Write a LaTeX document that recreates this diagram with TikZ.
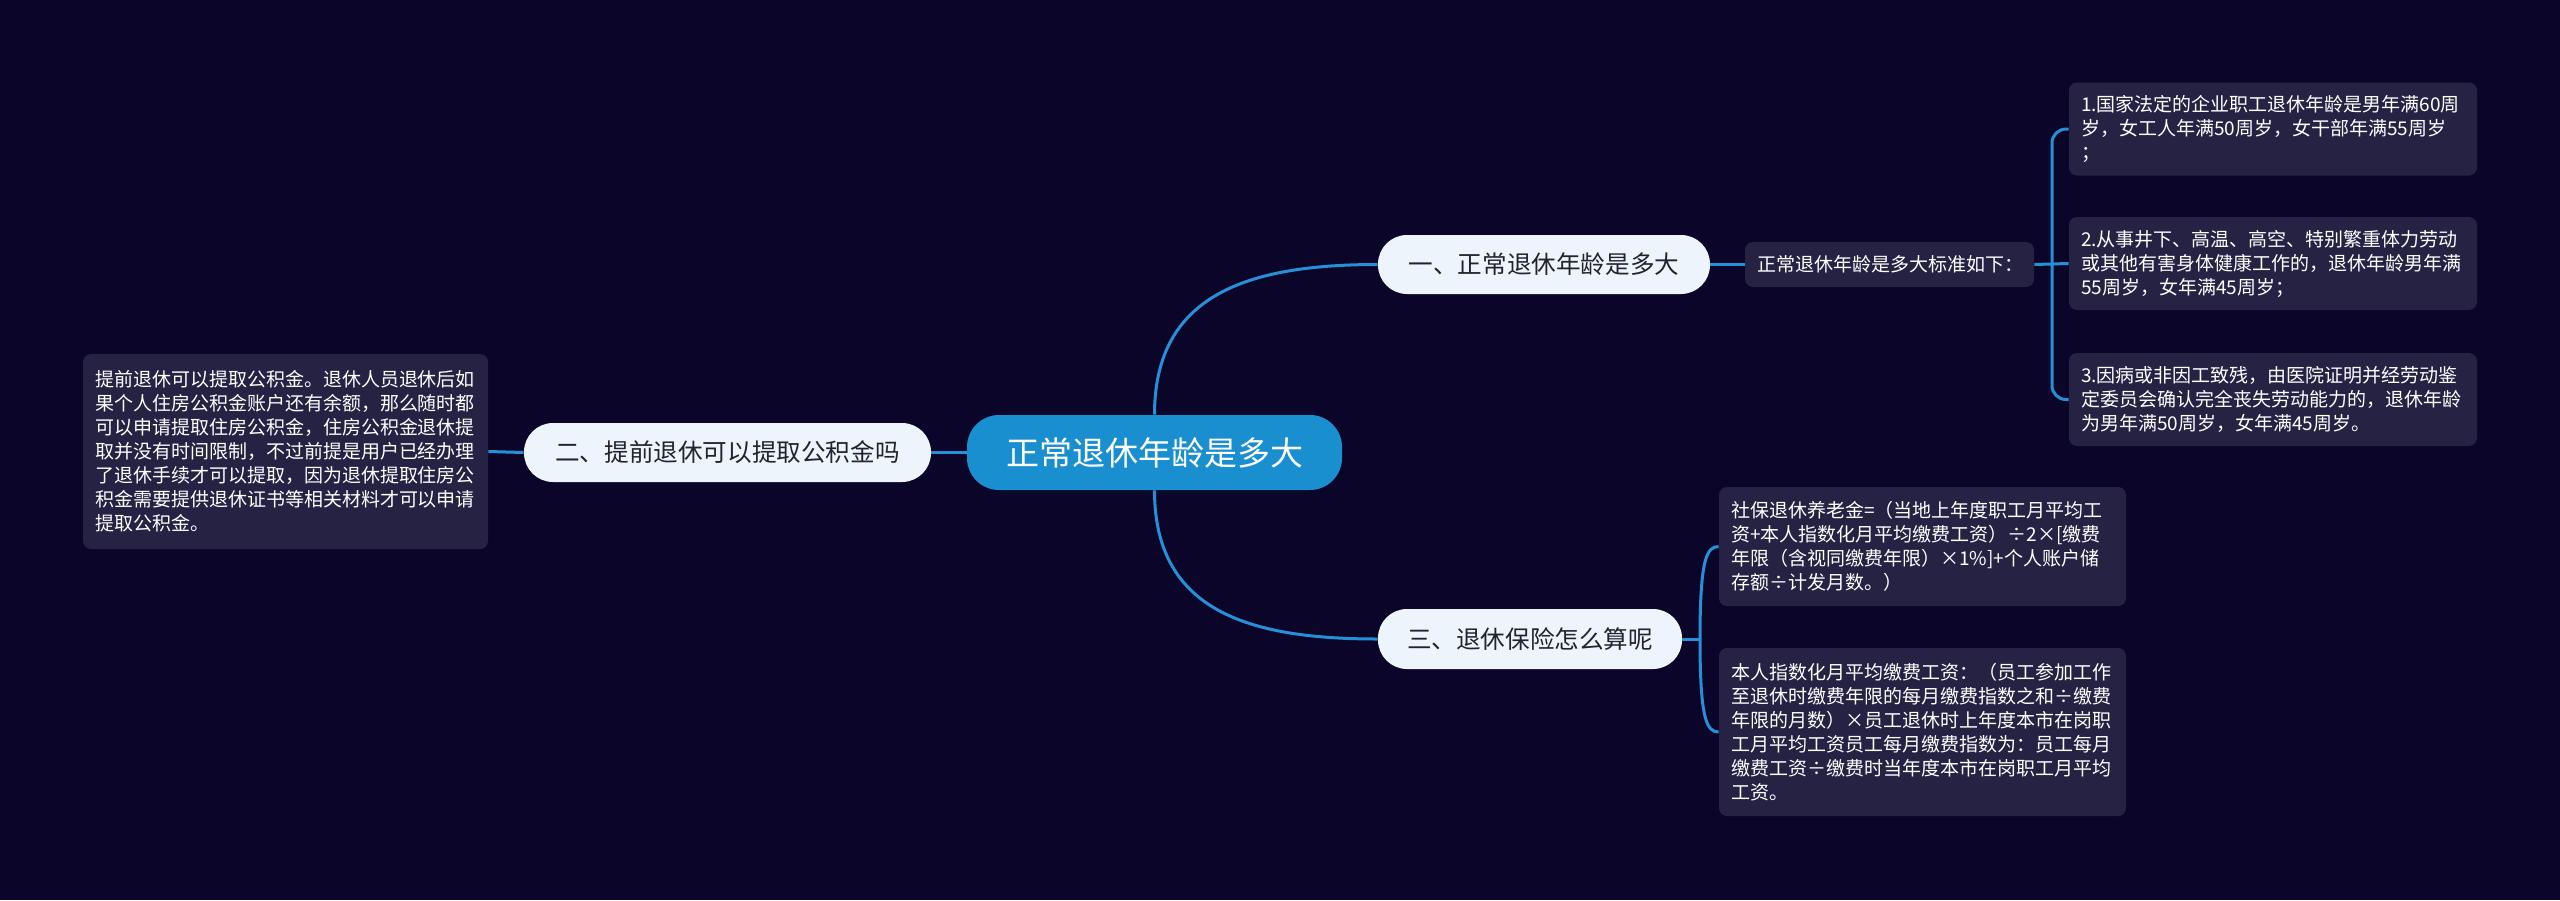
\documentclass[tikz,border=0pt]{standalone}
\usepackage{fontspec}
\setmainfont{Noto Sans CJK SC}
\definecolor{bgc}{HTML}{0B0629}
\definecolor{boxc}{HTML}{262244}
\definecolor{linec}{HTML}{2590D8}
\definecolor{mainc}{HTML}{1A8FD0}
\definecolor{lightc}{HTML}{EEF4FC}
\definecolor{darktext}{HTML}{222230}
\tikzset{
  mainnode/.style={fill=mainc, text=white, rounded corners=16pt, minimum width=187.5pt, minimum height=37.5pt, inner sep=0pt, font=\fontsize{16.5pt}{20pt}\selectfont},
  topic/.style={fill=lightc, text=darktext, rounded corners=14.5pt, minimum height=29.5pt, inner sep=0pt, font=\fontsize{12.3pt}{15pt}\selectfont},
  infobox/.style={fill=boxc, text=white, rounded corners=4pt, inner xsep=6pt, inner ysep=0pt, text width=191.5pt, align=left, font=\fontsize{9.5pt}{12pt}\selectfont},
  conn/.style={draw=linec, line width=1.5pt},
}
\begin{document}
\begin{tikzpicture}[x=0.5pt,y=-0.5pt]
\useasboundingbox (0,0) rectangle (2560,900);
\fill[bgc] (0,0) rectangle (2560,900);

\node[mainnode] (c) at (1154.5,452.5) {正常退休年龄是多大};
\node[topic, minimum width=203.5pt] (n2) at (727.5,452.5) {二、提前退休可以提取公积金吗};
\node[topic, minimum width=166pt] (n1) at (1544,264.5) {一、正常退休年龄是多大};
\node[topic, minimum width=152pt, minimum height=30pt] (n3) at (1530,639) {三、退休保险怎么算呢};

\node[infobox, text width=132.5pt, minimum height=22.5pt] (std) at (1889.5,264.5) {正常退休年龄是多大标准如下：};

\node[infobox, text width=192pt, minimum height=46.5pt] (b1) at (2273,129) {1.国家法定的企业职工退休年龄是男年满60周\\岁，女工人年满50周岁，女干部年满55周岁\\；};
\node[infobox, text width=192pt, minimum height=46.5pt] (b2) at (2273,263.5) {2.从事井下、高温、高空、特别繁重体力劳动\\或其他有害身体健康工作的，退休年龄男年满\\55周岁，女年满45周岁；};
\node[infobox, text width=192pt, minimum height=46.5pt] (b3) at (2273,399.5) {3.因病或非因工致残，由医院证明并经劳动鉴\\定委员会确认完全丧失劳动能力的，退休年龄\\为男年满50周岁，女年满45周岁。};

\node[infobox, text width=190.5pt, minimum height=97.5pt] (lb) at (285.5,451.5) {提前退休可以提取公积金。退休人员退休后如\\果个人住房公积金账户还有余额，那么随时都\\可以申请提取住房公积金，住房公积金退休提\\取并没有时间限制，不过前提是用户已经办理\\了退休手续才可以提取，因为退休提取住房公\\积金需要提供退休证书等相关材料才可以申请\\提取公积金。};

\node[infobox, minimum height=59.5pt] (s1) at (1922.5,546.5) {社保退休养老金=（当地上年度职工月平均工\\资+本人指数化月平均缴费工资）÷2×[缴费\\年限（含视同缴费年限）×1\%]+个人账户储\\存额÷计发月数。）};
\node[infobox, minimum height=84pt] (s2) at (1922.5,732) {本人指数化月平均缴费工资：（员工参加工作\\至退休时缴费年限的每月缴费指数之和÷缴费\\年限的月数）×员工退休时上年度本市在岗职\\工月平均工资员工每月缴费指数为：员工每月\\缴费工资÷缴费时当年度本市在岗职工月平均\\工资。};

\coordinate (j1) at (2052,264.5);
\coordinate (j3) at (1700,639);

% connectors
\draw[conn] (c.west) -- (n2.east);
\draw[conn] (n2.west) -- (lb.east);
\draw[conn] (c.north) .. controls +(0,-120) and +(-130,0) .. (n1.west);
\draw[conn] (c.south) .. controls +(0,120) and +(-130,0) .. (n3.west);
\draw[conn] (n1.east) -- (std.west);
\draw[conn] (std.east) -- (b2.west);
\draw[conn, rounded corners=7pt] (b1.west) -- (b1.west -| j1) -- (b3.west -| j1) -- (b3.west);
\draw[conn] (n3.east) -- (j3);
\draw[conn] (j3) .. controls +(0,-80) and +(-12,0) .. (s1.west);
\draw[conn] (j3) .. controls +(0,80) and +(-12,0) .. (s2.west);
\end{tikzpicture}
\end{document}
